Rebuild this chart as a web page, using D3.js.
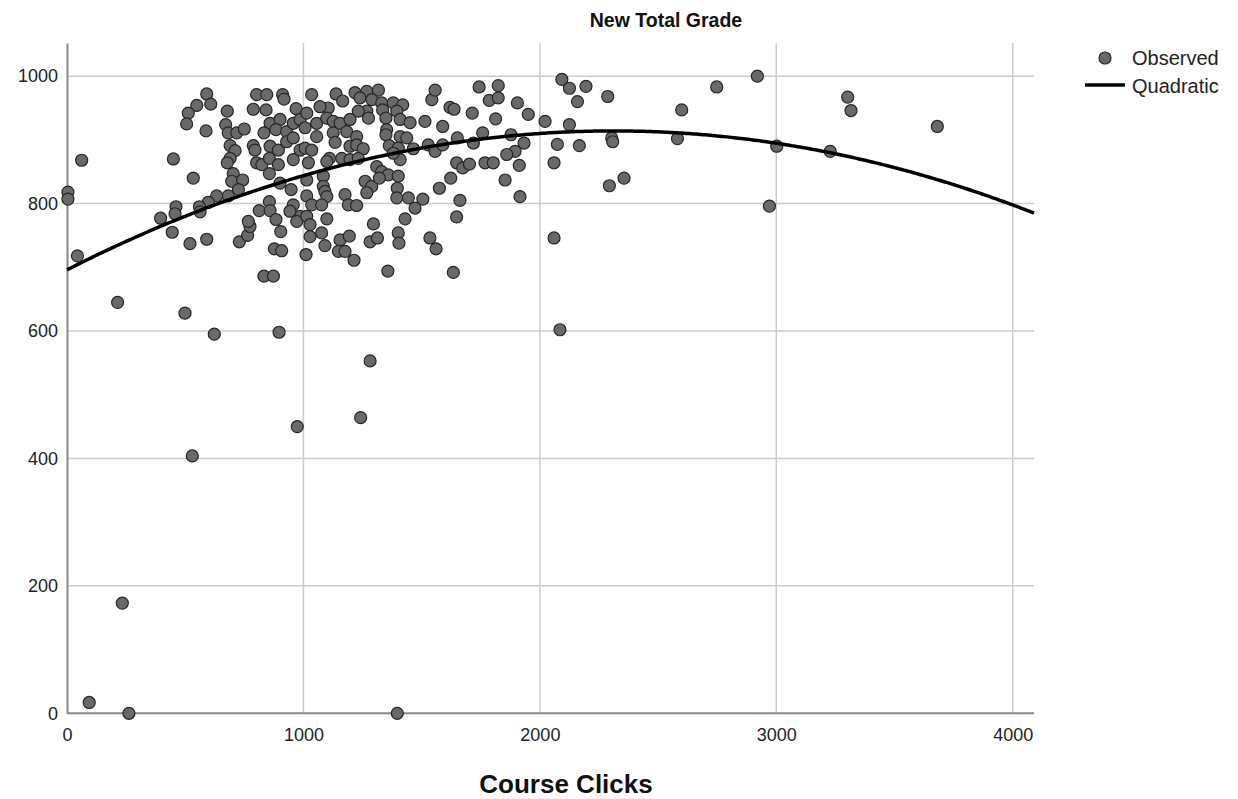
<!DOCTYPE html>
<html>
<head>
<meta charset="utf-8">
<script src="https://cdn.jsdelivr.net/npm/d3@7"></script>
<style>
  body { margin: 0; background: #fff; }
  text { font-family: "Liberation Sans", Arial, sans-serif; }
</style>
</head>
<body>
<svg id="chart"></svg>
<script>
// observed cases (clicks, grade)
const clicks = [4, 4, 62, 44, 214, 499, 623, 897, 1282, 1242, 974, 530, 234, 94, 262, 1397, 2085,
  591, 549, 608, 513, 506, 588, 678, 671, 682, 718, 750, 690, 711, 690, 678, 703, 697, 743, 725, 682,
  633, 598, 560, 461, 457, 396, 445, 520, 591, 729, 764, 774, 767, 813, 856, 859, 884, 904, 877, 908,
  833, 873, 450, 534, 802, 845, 912, 918, 788, 842, 969, 859, 901, 884, 929, 957, 986, 833, 859, 894,
  929, 957, 986, 788, 795, 802, 824, 856, 894, 856, 957, 1021, 901, 948, 957, 986, 943, 972, 563,
  1035, 1138, 1166, 1218, 1268, 1317, 1239, 1289, 1331, 1380, 1420, 1395, 1335, 1268, 1232, 1105, 1070,
  1014, 1007, 1056, 1099, 1126, 1155, 1197, 1275, 1349, 1409, 1451, 1514, 1589, 1543, 1557, 1620, 1637,
  1714, 1743, 1824, 1786, 1824, 1905, 1951, 1813, 2022, 1056, 1126, 1183, 1225, 1352, 1349, 1409, 1437,
  1007, 1035, 1134, 1197, 1225, 1253, 1363, 1401, 1465, 1528, 1557, 1589, 1651, 1719, 1758, 1878, 1933,
  1895, 1860, 1110, 1099, 1162, 1197, 1232, 1409, 1380, 1648, 1674, 1702, 1768, 1803, 1913, 1084, 1014,
  1310, 1331, 1359, 1401, 1261, 1289, 1321, 1397, 1084, 1091, 1099, 1014, 1035, 1077, 1176, 1190, 1225,
  1268, 1395, 1444, 1505, 1472, 1430, 1575, 1623, 1662, 1648, 1853, 1916, 1099, 1014, 1028, 1028, 1077,
  1091, 1011, 1155, 1194, 1148, 1176, 1214, 1296, 1282, 1313, 1401, 1404, 1535, 1561, 1357, 1634, 2060,
  2093, 2125, 2195, 2159, 2287, 2125, 2074, 2167, 2060, 2304, 2308, 2582, 2600, 2748, 2920, 3002, 2294,
  2356, 2971, 3302, 3316, 3228, 3681]
const grades = [818, 807, 868, 718, 645, 628, 595, 598, 553, 464, 450, 404, 173, 17, 0, 0, 602,
  972, 954, 956, 942, 925, 914, 945, 924, 911, 911, 917, 891, 883, 871, 864, 847, 835, 837, 822, 812,
  812, 802, 795, 795, 784, 777, 755, 737, 744, 740, 750, 764, 772, 789, 803, 789, 775, 756, 729, 726,
  686, 686, 870, 840, 971, 971, 971, 964, 948, 947, 949, 926, 932, 916, 913, 926, 932, 911, 890, 884,
  897, 903, 884, 891, 884, 864, 861, 871, 861, 847, 869, 864, 832, 822, 798, 780, 788, 772, 787,
  971, 972, 961, 974, 976, 978, 966, 963, 958, 958, 955, 945, 947, 945, 945, 950, 952,
  942, 919, 926, 934, 929, 926, 932, 934, 934, 932, 927, 929, 921, 963, 978, 951, 948,
  942, 983, 985, 962, 966, 958, 940, 933, 929, 905, 911, 913, 905, 916, 908, 905, 903,
  887, 884, 896, 890, 892, 886, 891, 887, 886, 892, 882, 892, 903, 895, 911, 908, 895,
  882, 877, 871, 866, 871, 869, 871, 869, 879, 864, 856, 862, 864, 864, 860, 843, 837,
  858, 850, 845, 843, 835, 827, 840, 824, 827, 819, 811, 812, 798, 798, 814, 798, 797,
  817, 809, 809, 807, 793, 776, 824, 840, 805, 779, 837, 811, 776, 780, 767, 748, 754,
  734, 720, 743, 749, 725, 725, 711, 768, 740, 746, 754, 738, 746, 729, 694, 692, 746,
  995, 981, 984, 960, 968, 924, 893, 891, 864, 903, 897, 902, 947, 983, 1000, 890, 828,
  840, 796, 967, 946, 882, 921]

// quadratic fit: grade = b0 + b1*clicks + b2*clicks^2
const quadCoef = [696, 0.18857, -4.078e-5]

const xTicks = [0, 1000, 2000, 3000, 4000]
const yTicks = [0, 200, 400, 600, 800, 1000]
const legendItems = ['Observed', 'Quadratic']

const width = 1238, height = 799
const margin = { top: 43, right: 204, bottom: 85.7, left: 67 }

const svg = d3.select('#chart')
    .attr('width', width)
    .attr('height', height)

const x = d3.scaleLinear()
    .domain([0, 4090])
    .range([margin.left, width - margin.right])

const y = d3.scaleLinear()
    .domain([0, 1052])
    .range([height - margin.bottom, margin.top])

// grid
svg.append('g')
    .selectAll('line')
    .data(yTicks.slice(1))
    .join('line')
    .attr('x1', x(0))
    .attr('x2', width - margin.right)
    .attr('y1', d => y(d))
    .attr('y2', d => y(d))
    .attr('stroke', '#cccccc')
    .attr('stroke-width', 1.5)

svg.append('g')
    .selectAll('line')
    .data(xTicks.slice(1))
    .join('line')
    .attr('x1', d => x(d))
    .attr('x2', d => x(d))
    .attr('y1', y(0))
    .attr('y2', margin.top)
    .attr('stroke', '#cccccc')
    .attr('stroke-width', 1.5)

// axes
const xAxis = svg.append('g')
    .attr('transform', `translate(0,${y(0)})`)
    .call(d3.axisBottom(x).tickValues(xTicks).tickSize(0).tickPadding(15).tickFormat(d3.format('d')))
const yAxis = svg.append('g')
    .attr('transform', `translate(${x(0)},0)`)
    .call(d3.axisLeft(y).tickValues(yTicks).tickSize(0).tickPadding(9).tickFormat(d3.format('d')))

for (const ax of [xAxis, yAxis]) {
    ax.select('.domain').attr('stroke', '#888').attr('stroke-width', 2)
    ax.selectAll('text')
        .attr('fill', '#222')
        .attr('font-size', 18)
        .style('font-family', '"Liberation Sans", Arial, sans-serif')
}
xAxis.select('.domain').attr('d', `M${x(0)},0H${width - margin.right}`)

// observed points
svg.append('g')
    .selectAll('circle')
    .data(d3.zip(clicks, grades))
    .join('circle')
    .attr('cx', d => x(d[0]))
    .attr('cy', d => y(d[1]))
    .attr('r', 6)
    .attr('fill', '#696969')
    .attr('stroke', '#262626')
    .attr('stroke-width', 1.2)

// quadratic curve
const quad = v => quadCoef[0] + quadCoef[1] * v + quadCoef[2] * v * v
svg.append('path')
    .datum(d3.range(0, 4090 + 1, 10))
    .attr('fill', 'none')
    .attr('stroke', '#000')
    .attr('stroke-width', 3.5)
    .attr('d', d3.line().x(d => x(d)).y(d => y(quad(d))))

// titles
svg.append('text')
    .attr('x', 666)
    .attr('y', 27)
    .attr('text-anchor', 'middle')
    .attr('font-weight', 'bold')
    .attr('font-size', 19.5)
    .attr('fill', '#111')
    .text('New Total Grade')

svg.append('text')
    .attr('x', 566)
    .attr('y', 793)
    .attr('text-anchor', 'middle')
    .attr('font-weight', 'bold')
    .attr('font-size', 26)
    .attr('fill', '#111')
    .text('Course Clicks')

// legend
const legend = svg.append('g').attr('transform', 'translate(1085,58)')
legend.append('circle')
    .attr('cx', 20).attr('cy', 0).attr('r', 6)
    .attr('fill', '#696969').attr('stroke', '#262626').attr('stroke-width', 1.2)
legend.append('line')
    .attr('x1', 0).attr('x2', 40).attr('y1', 27).attr('y2', 27)
    .attr('stroke', '#000').attr('stroke-width', 3.5)
legend.selectAll('text')
    .data(legendItems)
    .join('text')
    .attr('x', 47)
    .attr('y', (d, i) => i * 28 + 7)
    .attr('font-size', 20)
    .attr('fill', '#222')
    .text(d => d)
</script>
</body>
</html>
